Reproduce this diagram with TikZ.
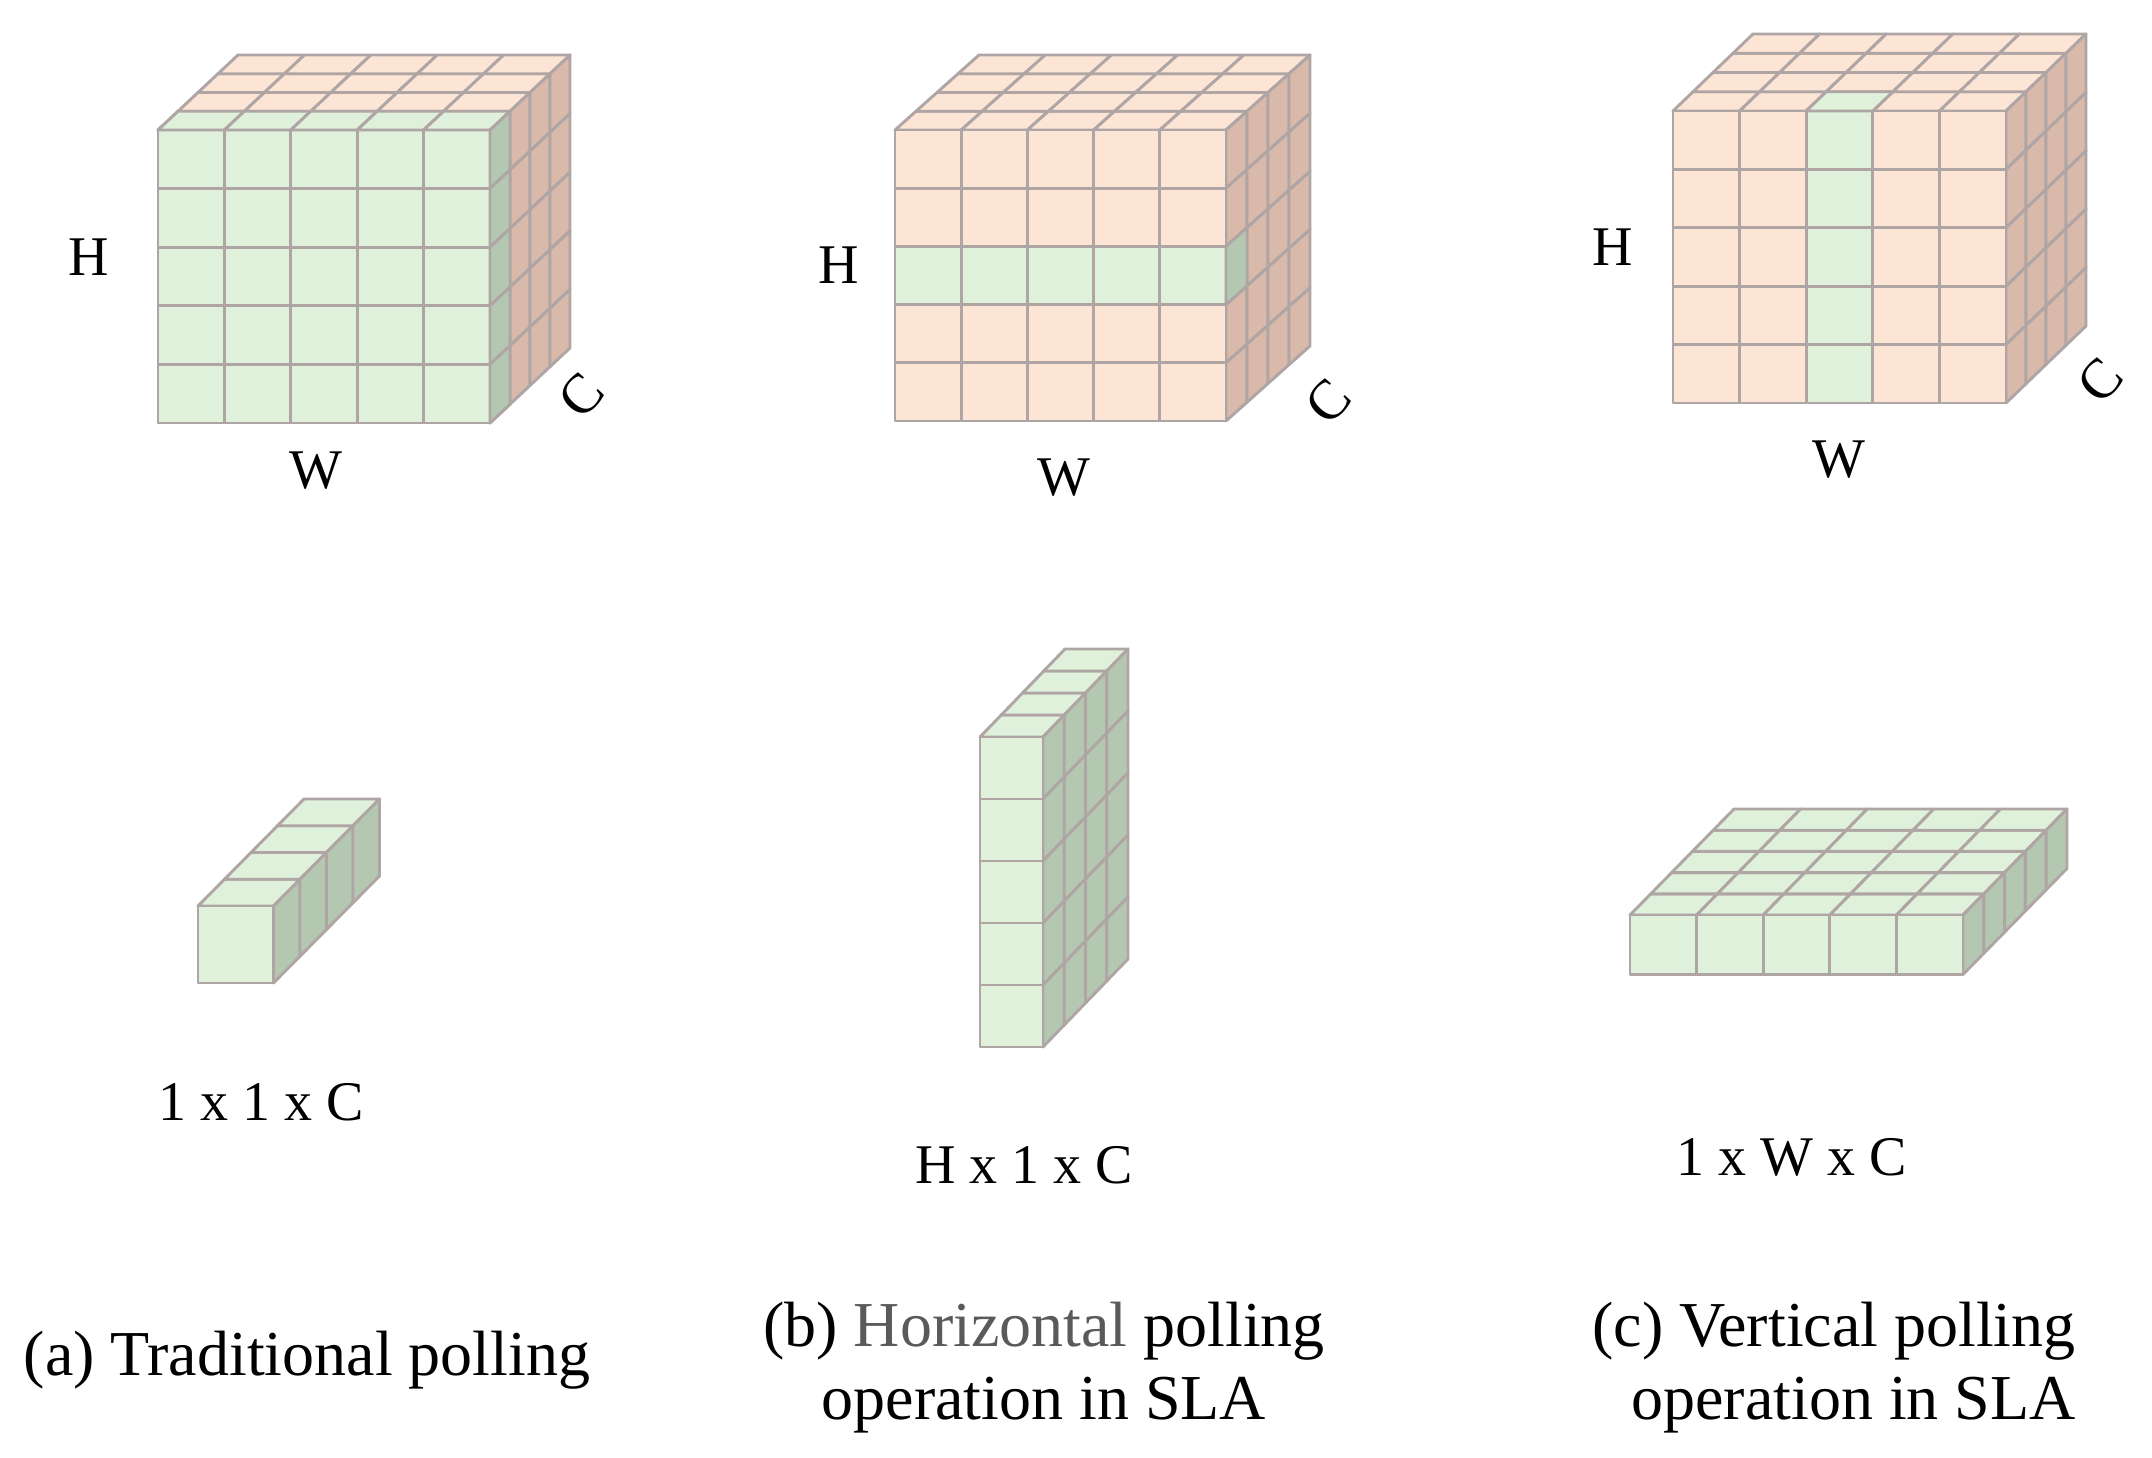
\documentclass[tikz,border=0pt]{standalone}
\usepackage{fontspec}
\setmainfont{Liberation Serif}
\definecolor{pf}{HTML}{FDE5D6}
\definecolor{ps}{HTML}{D8B9AA}
\definecolor{gf}{HTML}{DFF0DB}
\definecolor{gs}{HTML}{B4C7B0}
\definecolor{edgecol}{HTML}{AFA5A5}
\definecolor{hgray}{HTML}{5A5A5A}
\tikzset{
  cellline/.style={draw=edgecol,line width=2.9pt,line join=round},
  lbl/.style={inner sep=0pt,font=\fontsize{56}{62}\selectfont},
  captxt/.style={inner sep=0pt,font=\fontsize{64}{73}\selectfont}
}
\newcommand\setblock[6]{\def\xL{#1}\def\yT{#2}\def\cw{#3}\def\ch{#4}\def\ddx{#5}\def\ddy{#6}}
% front cell: colour, column, row
\newcommand\fcell[3]{\filldraw[cellline,fill=#1] ({\xL+(#2-1)*\cw},{\yT+(#3-1)*\ch}) rectangle ++(\cw,\ch);}
% top cell: colour, column, layer
\newcommand\tcell[3]{\filldraw[cellline,fill=#1] ({\xL+(#2-1)*\cw+(#3-1)*\ddx},{\yT-(#3-1)*\ddy}) -- ++(\cw,0) -- ++(\ddx,-\ddy) -- ++(-\cw,0) -- cycle;}
% side cell: colour, row, layer
\newcommand\scell[3]{\filldraw[cellline,fill=#1] ({\xL+\nx*\cw+(#3-1)*\ddx},{\yT+(#2-1)*\ch-(#3-1)*\ddy}) -- ++(\ddx,-\ddy) -- ++(0,\ch) -- ++(-\ddx,\ddy) -- cycle;}
% block: nx, ny, nz, front colour, top colour, side colour
\newcommand\block[6]{%
  \def\nx{#1}%
  \foreach \z in {1,...,#3} {\foreach \i in {1,...,#1} {\tcell{#5}{\i}{\z}}}
  \foreach \z in {1,...,#3} {\foreach \j in {1,...,#2} {\scell{#6}{\j}{\z}}}
  \foreach \i in {1,...,#1} {\foreach \j in {1,...,#2} {\fcell{#4}{\i}{\j}}}
}
\begin{document}
\begin{tikzpicture}[x=1pt,y=-1pt]
\useasboundingbox[fill=white] (0,0) rectangle (2152,1458);

% ---- (a) top cube
\setblock{158}{130}{66.4}{58.6}{20}{18.75}
\block{5}{5}{4}{pf}{pf}{ps}
\foreach \i in {1,...,5} {\foreach \j in {1,...,5} {\fcell{gf}{\i}{\j}}}
\foreach \i in {1,...,5} {\tcell{gf}{\i}{1}}
\foreach \j in {1,...,5} {\scell{gs}{\j}{1}}

% ---- (b) top cube
\setblock{895}{130}{66.2}{58.2}{21}{18.75}
\block{5}{5}{4}{pf}{pf}{ps}
\foreach \i in {1,...,5} {\fcell{gf}{\i}{3}}
\scell{gs}{3}{1}

% ---- (c) top cube
\setblock{1673}{111}{66.6}{58.4}{20}{19.25}
\block{5}{5}{4}{pf}{pf}{ps}
\foreach \j in {1,...,5} {\fcell{gf}{3}{\j}}
\tcell{gf}{3}{1}

% ---- bottom shapes
\setblock{198}{906}{75.5}{77}{26.5}{26.75}
\block{1}{1}{4}{gf}{gf}{gs}
\setblock{980}{737}{63}{62}{21.25}{22}
\block{1}{5}{4}{gf}{gf}{gs}
\setblock{1630}{915}{66.6}{59.5}{20.8}{21.2}
\block{5}{1}{5}{gf}{gf}{gs}

% ---- axis labels
\node[lbl] (Ha) at (89,257) {H};
\node[lbl] (Wa) at (316,471) {W};
\node[lbl,rotate=48] (Ca) at (581,395) {C};
\node[lbl] (Hb) at (839,265) {H};
\node[lbl] (Wb) at (1064,478) {W};
\node[lbl,rotate=48] (Cb) at (1328,401) {C};
\node[lbl] (Hc) at (1613,247) {H};
\node[lbl] (Wc) at (1839,460) {W};
\node[lbl,rotate=48] (Cc) at (2100,380) {C};

% ---- size labels
\node[lbl] (sa) at (261,1102) {1 x 1 x C};
\node[lbl] (sb) at (1024,1165) {H x 1 x C};
\node[lbl] (sc) at (1792,1157) {1 x W x C};

% ---- captions
\node[captxt] (capa) at (307,1360) {(a) Traditional polling};
\node[captxt,align=center] (capb) at (1044,1368) {(b) {\color{hgray}Horizontal} polling\\operation in SLA};
\node[captxt,align=right] (capc) at (1834,1368) {(c) Vertical polling\\operation in SLA};
\end{tikzpicture}
\end{document}
